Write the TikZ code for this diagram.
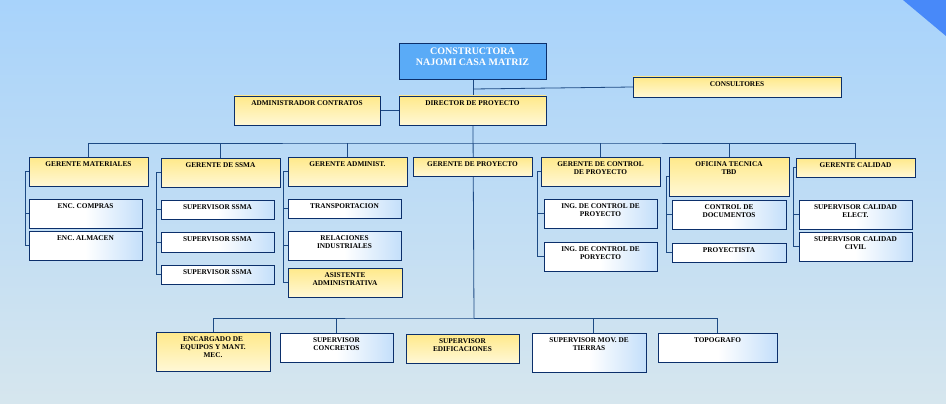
\documentclass[tikz,border=0pt]{standalone}
\usepackage{fontspec}
\setmainfont{Liberation Serif}
\pgfdeclarelayer{bg}
\pgfsetlayers{bg,main}
\begin{document}
\begin{tikzpicture}[x=1pt,y=-1pt,
  bxbase/.style={draw=navy,line width=0.9pt,inner sep=0pt,outer sep=0pt,anchor=north west},
  yb/.style={bxbase,top color=boxy1,bottom color=boxy2},
  wb/.style={bxbase,left color=white,right color=boxb,middle color=white},
  bb/.style={bxbase,fill=topblue},
  lbl/.style={anchor=north,font=\bfseries\fontsize{7.3}{8.2}\selectfont,align=center,inner sep=0pt,text=black},
  conn/.style={draw=linec,line width=0.8pt}]
\definecolor{navy}{HTML}{0B2F6B}
\definecolor{linec}{HTML}{1D4A84}
\definecolor{boxy1}{HTML}{FFE98A}
\definecolor{boxy2}{HTML}{FFF8D6}
\definecolor{boxb}{HTML}{C4DFFA}
\definecolor{topblue}{HTML}{5AABF7}
\definecolor{bgtop}{HTML}{A8D3FB}
\definecolor{bgbot}{HTML}{D6E6EE}
\newcommand{\orgbox}[7]{%
  \node[#6,minimum width={(#4-#2)*1pt},minimum height={(#5-#3)*1pt}] (#1) at (#2,#3) {};
  \node[lbl] (#1t) at ([yshift=-4pt]#1.north) {#7};}
\useasboundingbox (0,0) rectangle (946,404);
% top
\node[bb,minimum width=147pt,minimum height=36pt] (top) at (399,43) {};
\node[lbl,text=white,font=\bfseries\fontsize{10}{11}\selectfont] (topt) at ([yshift=-5pt]top.north) {CONSTRUCTORA\\NAJOMI CASA MATRIZ};
\orgbox{cons}{633}{77}{841}{97}{yb}{CONSULTORES}
\orgbox{adm}{234}{96}{380}{125}{yb}{ADMINISTRADOR CONTRATOS}
\orgbox{dir}{399}{96}{546}{125}{yb}{DIRECTOR DE PROYECTO}
% row 1
\orgbox{mat}{29}{157}{148}{186}{yb}{GERENTE MATERIALES}
\orgbox{ssma}{161}{158}{280}{187}{yb}{GERENTE DE SSMA}
\orgbox{gad}{288}{157}{407}{186}{yb}{GERENTE ADMINIST.}
\orgbox{gpr}{413}{157}{532}{176}{yb}{GERENTE DE PROYECTO}
\orgbox{gcp}{541}{157}{660}{186}{yb}{GERENTE DE CONTROL\\DE PROYECTO}
\orgbox{ofi}{669}{157}{789}{196}{yb}{OFICINA TECNICA\\TBD}
\orgbox{cal}{796}{158}{915}{177}{yb}{GERENTE CALIDAD}
% children
\orgbox{com}{29}{199}{142}{228}{wb}{ENC. COMPRAS}
\orgbox{alm}{29}{231}{142}{260}{wb}{ENC. ALMACEN}
\orgbox{s1}{161}{200}{274}{219}{wb}{SUPERVISOR SSMA}
\orgbox{s2}{161}{232}{274}{252}{wb}{SUPERVISOR SSMA}
\orgbox{s3}{161}{265}{274}{284}{wb}{SUPERVISOR SSMA}
\orgbox{tra}{288}{199}{401}{218}{wb}{TRANSPORTACION}
\orgbox{rel}{288}{231}{401}{260}{wb}{RELACIONES\\INDUSTRIALES}
\orgbox{asi}{288}{268}{402}{297}{yb}{ASISTENTE\\ADMINISTRATIVA}
\orgbox{ing1}{544}{199}{657}{228}{wb}{ING. DE CONTROL DE\\PROYECTO}
\orgbox{ing2}{544}{242}{657}{271}{wb}{ING. DE CONTROL DE\\PORYECTO}
\orgbox{doc}{672}{200}{786}{229}{wb}{CONTROL DE\\DOCUMENTOS}
\orgbox{pry}{672}{243}{786}{262}{wb}{PROYECTISTA}
\orgbox{sce}{799}{200}{912}{229}{wb}{SUPERVISOR CALIDAD\\ELECT.}
\orgbox{scc}{799}{232}{912}{261}{wb}{SUPERVISOR CALIDAD\\CIVIL}
% bottom
\orgbox{enc}{156}{332}{270}{371}{yb}{ENCARGADO DE\\EQUIPOS Y MANT.\\MEC.}
\orgbox{con}{280}{333}{393}{362}{wb}{SUPERVISOR\\CONCRETOS}
\orgbox{edi}{406}{334}{519}{363}{yb}{SUPERVISOR\\EDIFICACIONES}
\orgbox{mov}{532}{333}{646}{372}{wb}{SUPERVISOR MOV. DE\\TIERRAS}
\orgbox{topo}{658}{333}{777}{362}{wb}{TOPOGRAFO}
\begin{pgfonlayer}{bg}
\shade[top color=bgtop,bottom color=bgbot] (0,0) rectangle (946,404);
\fill[topblue!80!blue] (903,0) -- (946,0) -- (946,36) -- cycle;
\coordinate (b1) at (473,143);
\coordinate (b2) at (474,318);
\coordinate (bm) at (593,333);
\draw[conn] (top.south -| b1) -- (dir.north -| b1);
\draw[conn] (473,89) -- (cons.west);
\draw[conn] (adm.east) -- (dir.west);
\draw[conn] (dir.south -| b1) -- (b2);
\draw[conn] (mat.north) |- (b1) -| (cal.north);
\draw[conn] (ssma.north) -- (ssma.north |- b1);
\draw[conn] (gad.north) -- (gad.north |- b1);
\draw[conn] (gcp.north) -- (gcp.north |- b1);
\draw[conn] (ofi.north) -- (ofi.north |- b1);
\draw[conn] (enc.north) |- (b2) -| (bm);
\draw[conn] (b2) -| (topo.north);
\draw[conn] (con.north) -- (con.north |- b2);
\foreach \p/\x/\cs in {mat/25/{com,alm}, ssma/156/{s1,s2,s3}, gad/283/{tra,rel,asi}, gcp/537/{ing1,ing2}, ofi/666/{doc,pry}, cal/793/{sce,scc}}{
  \draw[conn] (\p.west) -- (\p.west -| \x,0);
  \foreach \c in \cs { \draw[conn] (\p.west -| \x,0) -- (\c.west -| \x,0) -- (\c.west); }
}
\end{pgfonlayer}
\end{tikzpicture}
\end{document}
